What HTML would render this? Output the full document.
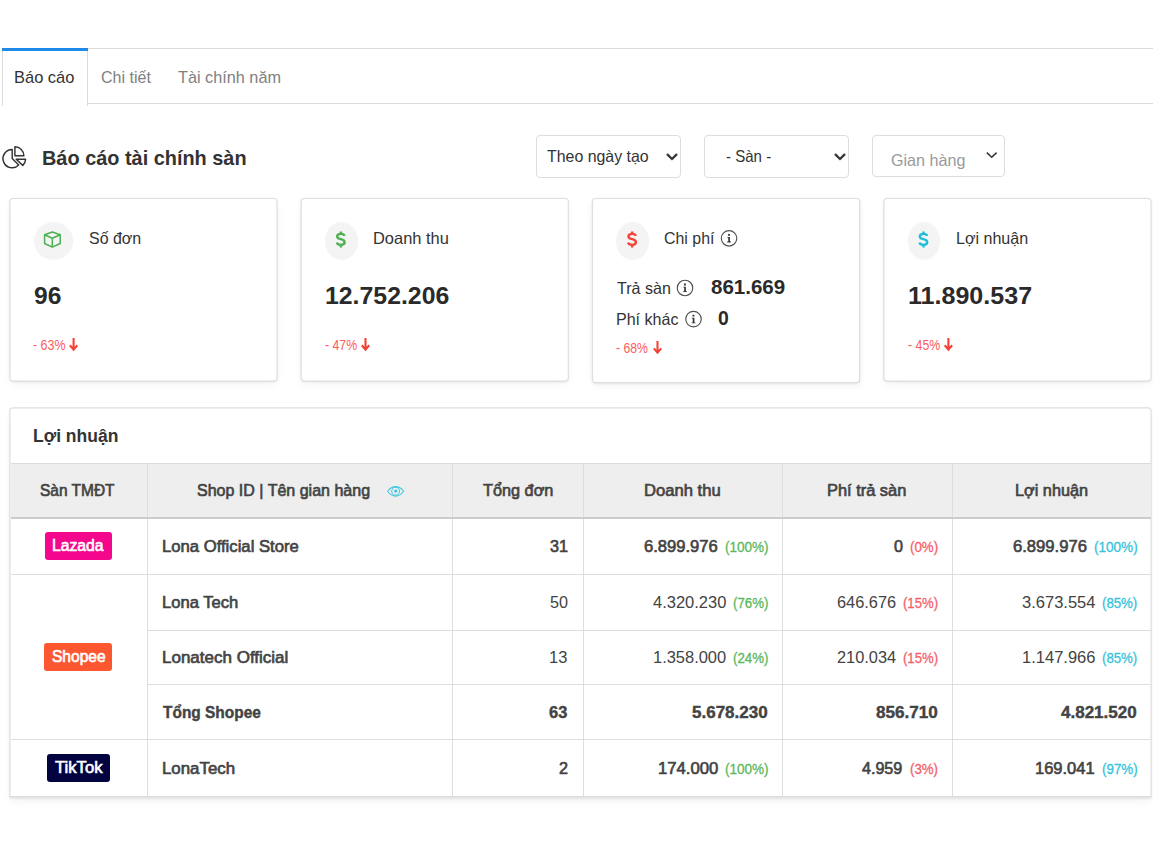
<!DOCTYPE html>
<html lang="vi">
<head>
<meta charset="utf-8">
<title>Báo cáo tài chính sàn</title>
<style>
*{box-sizing:border-box;margin:0;padding:0}
html,body{width:1153px;height:845px;overflow:hidden;background:#fff}
body{font-family:"Liberation Sans",sans-serif;color:#333;position:relative}
.a,.x{position:absolute;white-space:nowrap}
.x{font-family:"Liberation Sans",sans-serif;transform-origin:0 0}
svg{position:absolute;overflow:visible}
.card{position:absolute;border-radius:4px;background:#fff;box-shadow:0 1px 3px rgba(0,0,0,.08),0 3px 8px rgba(0,0,0,.045)}
.sel{position:absolute;border:1px solid #ddd;border-radius:4px;background:#fff}
.oval{position:absolute;border-radius:50%;background:#f4f4f4}
.vl{position:absolute;width:1px;background:#dedede}
.hl{position:absolute;height:1px;background:#dedede}
.badge{position:absolute;border-radius:3px}
</style>
</head>
<body>
<!-- tabs -->
<div class="a" style="left:2px;top:48px;width:1151px;height:1px;background:#dcdcdc"></div>
<div class="a" style="left:88px;top:103px;width:1065px;height:1px;background:#dcdcdc"></div>
<div class="a" style="left:2px;top:48px;width:1px;height:58px;background:#dcdcdc"></div>
<div class="a" style="left:87px;top:48px;width:1px;height:58px;background:#dcdcdc"></div>
<div class="a" style="left:2px;top:48px;width:86px;height:3px;background:#1e8ae8"></div>

<!-- title icon -->
<svg style="left:0;top:140px" width="40" height="35" viewBox="0 140 40 35" fill="none" stroke="#333" stroke-width="1.45" stroke-linejoin="round" stroke-linecap="butt">
  <path d="M12.2 149.4 A9.2 9.2 0 1 0 18.7 165.1 L12.2 158.6 Z"/>
  <path d="M14.9 146.8 V155.8 H23.9 A9 9 0 0 0 14.9 146.8 Z"/>
  <path d="M16.2 159.2 H25.6 A9.4 9.4 0 0 1 22.8 165.4 Z"/>
</svg>

<!-- selects -->
<div class="sel" style="left:536px;top:135px;width:145px;height:43px"></div>
<div class="sel" style="left:704px;top:135px;width:145px;height:43px"></div>
<div class="sel" style="left:872px;top:135px;width:133px;height:42px"></div>
<svg style="left:0;top:0" width="1153" height="200" viewBox="0 0 1153 200" fill="none" stroke-linejoin="miter">
  <path d="M667.6 154.6 L672 159 L676.4 154.6" stroke="#333" stroke-width="2.2" stroke-linecap="round"/>
  <path d="M835.6 154.6 L840 159 L844.4 154.6" stroke="#333" stroke-width="2.2" stroke-linecap="round"/>
  <path d="M986.8 152.6 L991.7 157.3 L996.6 152.6" stroke="#333" stroke-width="1.5"/>
</svg>

<!-- cards -->
<div class="card" style="left:10px;top:198px;width:267px;height:183px"></div>
<div class="card" style="left:301px;top:198px;width:267px;height:183px"></div>
<div class="card" style="left:592px;top:198px;width:268px;height:185px"></div>
<div class="card" style="left:884px;top:198px;width:267px;height:183px"></div>
<svg style="left:0;top:190px" width="1153" height="200" viewBox="0 190 1153 200" fill="none" stroke="#dedede" stroke-width="1.15">
  <rect x="9.9" y="198.5" width="267.1" height="182.6" rx="3.3"/>
  <rect x="301.2" y="198.5" width="267.1" height="182.6" rx="3.3"/>
  <rect x="592.5" y="198.5" width="267.1" height="184.1" rx="3.3"/>
  <rect x="883.9" y="198.5" width="267.1" height="182.6" rx="3.3"/>
</svg>
<div class="oval" style="left:33.5px;top:222px;width:39.5px;height:37.5px"></div>
<div class="oval" style="left:325px;top:222px;width:32.5px;height:37.5px"></div>
<div class="oval" style="left:616.3px;top:222px;width:32.5px;height:37.5px"></div>
<div class="oval" style="left:907.5px;top:222px;width:32.5px;height:37.5px"></div>

<!-- card icons -->
<svg style="left:0;top:200px" width="1153" height="190" viewBox="0 200 1153 190" fill="none">
  <!-- box -->
  <g stroke="#4caf50" stroke-width="1.5" stroke-linejoin="round">
    <path d="M52.3 232.0 L60.2 234.8 V243.5 L52.3 247.1 L44.6 243.5 V234.8 Z"/>
    <path d="M44.6 234.8 L52.3 238.3 L60.2 234.8 M52.3 238.3 V247.1"/>
  </g>
  <!-- dollars -->
  <g id="dl" stroke-width="2.4" stroke-linecap="butt">
    <path id="dollar" d="M3.7 -3.5 C3.3 -4.9 2.0 -5.5 0.1 -5.5 C-2.1 -5.5 -3.6 -4.5 -3.6 -3.0 C-3.6 -1.5 -2.3 -0.8 0.1 -0.2 C2.6 0.4 3.8 1.3 3.8 2.9 C3.8 4.5 2.4 5.5 0.1 5.5 C-2.1 5.5 -3.6 4.7 -3.9 3.2 M0.1 -8.0 V-5.5 M0.1 5.5 V8.0" transform="translate(340.8 239.4)" stroke="#4caf50"/>
  </g>
</svg>
<svg style="left:0;top:200px" width="1153" height="190" viewBox="0 200 1153 190" fill="none" stroke-width="2.4">
  <path d="M3.7 -3.5 C3.3 -4.9 2.0 -5.5 0.1 -5.5 C-2.1 -5.5 -3.6 -4.5 -3.6 -3.0 C-3.6 -1.5 -2.3 -0.8 0.1 -0.2 C2.6 0.4 3.8 1.3 3.8 2.9 C3.8 4.5 2.4 5.5 0.1 5.5 C-2.1 5.5 -3.6 4.7 -3.9 3.2 M0.1 -8.0 V-5.5 M0.1 5.5 V8.0" transform="translate(632.1 239.4)" stroke="#f44336"/>
  <path d="M3.7 -3.5 C3.3 -4.9 2.0 -5.5 0.1 -5.5 C-2.1 -5.5 -3.6 -4.5 -3.6 -3.0 C-3.6 -1.5 -2.3 -0.8 0.1 -0.2 C2.6 0.4 3.8 1.3 3.8 2.9 C3.8 4.5 2.4 5.5 0.1 5.5 C-2.1 5.5 -3.6 4.7 -3.9 3.2 M0.1 -8.0 V-5.5 M0.1 5.5 V8.0" transform="translate(923.4 239.4)" stroke="#22bcd6"/>
  <!-- info icons -->
  <g stroke="#505050" stroke-width="1.15">
    <circle cx="729.05" cy="238.3" r="7.75"/>
    <circle cx="685.0" cy="288.0" r="7.75"/>
    <circle cx="693.5" cy="319.1" r="7.75"/>
  </g>
  <g fill="#333" stroke="none">
    <path id="ii" d="M-1.0 -4.4 h1.9 v1.8 h-1.9 z M-1.7 -1.3 h2.6 v4.6 h1.0 v0.8 h-3.8 v-0.8 h1.1 v-3.8 h-0.9 z" transform="translate(729.05 238.3)"/>
    <path d="M-1.0 -4.4 h1.9 v1.8 h-1.9 z M-1.7 -1.3 h2.6 v4.6 h1.0 v0.8 h-3.8 v-0.8 h1.1 v-3.8 h-0.9 z" transform="translate(685.0 288.0)"/>
    <path d="M-1.0 -4.4 h1.9 v1.8 h-1.9 z M-1.7 -1.3 h2.6 v4.6 h1.0 v0.8 h-3.8 v-0.8 h1.1 v-3.8 h-0.9 z" transform="translate(693.5 319.1)"/>
  </g>
  <!-- arrows -->
  <g stroke="#f44336" stroke-width="2.1" stroke-linejoin="miter">
    <path d="M73.6 338 V349.4 M69.9 345.3 L73.6 349.6 L77.3 345.3"/>
    <path d="M365.5 338 V349.4 M361.8 345.3 L365.5 349.6 L369.2 345.3"/>
    <path d="M657.5 341.1 V352.5 M653.8 348.4 L657.5 352.7 L661.2 348.4"/>
    <path d="M948.4 338 V349.4 M944.7 345.3 L948.4 349.6 L952.1 345.3"/>
  </g>
</svg>

<!-- table -->
<div class="card" style="left:10px;top:408px;width:1141px;height:390px;border-radius:4px 4px 1px 1px"></div>
<svg style="left:0;top:400px" width="1153" height="410" viewBox="0 400 1153 410" fill="none" stroke="#dedede" stroke-width="1.15"><path d="M9.9 797.7 V411 Q9.9 407.8 13.1 407.8 H1147.9 Q1151.1 407.8 1151.1 411 V797.7 Z"/></svg>
<div class="a" style="left:11px;top:463px;width:1140px;height:54px;background:#eeeeee;border-top:1px solid #dcdcdc"></div>
<div class="vl" style="left:147px;top:464px;height:332px"></div>
<div class="vl" style="left:452px;top:464px;height:332px"></div>
<div class="vl" style="left:583px;top:464px;height:332px"></div>
<div class="vl" style="left:782px;top:464px;height:332px"></div>
<div class="vl" style="left:952px;top:464px;height:332px"></div>
<div class="a" style="left:11px;top:517px;width:1140px;height:2px;background:#cccccc"></div>
<div class="a" style="left:10px;top:796px;width:1141px;height:1px;background:#dcdcdc"></div>
<div class="hl" style="left:11px;top:574px;width:1140px"></div>
<div class="hl" style="left:148px;top:630px;width:1003px"></div>
<div class="hl" style="left:148px;top:684px;width:1003px"></div>
<div class="hl" style="left:11px;top:739px;width:1140px"></div>
<!-- eye -->
<svg style="left:380px;top:480px" width="32" height="24" viewBox="380 480 32 24" fill="none" stroke="#45c8de" stroke-width="1.05">
  <path d="M387.7 491.3 C390.2 487.5 393 486.6 395.6 486.6 C398.2 486.6 401 487.5 403.6 491.3 C401 495.1 398.2 496.1 395.6 496.1 C393 496.1 390.2 495.1 387.7 491.3 Z"/>
  <circle cx="395.6" cy="491.2" r="3.9"/>
  <circle cx="395.8" cy="491.0" r="1.6" fill="#2fc2da" stroke="none"/>
</svg>
<!-- badges -->
<div class="badge" style="left:45px;top:532px;width:67px;height:28px;background:#f5078d"></div>
<div class="badge" style="left:44px;top:643px;width:68px;height:28px;background:#fd5731"></div>
<div class="badge" style="left:47px;top:754px;width:63px;height:28px;background:#030340"></div>

<div class="x" id="t1" style="left:13.98px;top:66.89px;font-size:16.2px;line-height:21px;transform:scaleX(1.0172);color:#333">Báo cáo</div>
<div class="x" id="t2" style="left:101.00px;top:66.89px;font-size:16.2px;line-height:21px;transform:scaleX(0.9905);color:#808080">Chi tiết</div>
<div class="x" id="t3" style="left:178.00px;top:66.89px;font-size:16.2px;line-height:21px;transform:scaleX(1.0040);color:#808080">Tài chính năm</div>
<div class="x" id="title" style="left:42.39px;top:145.24px;font-size:19.8px;line-height:26px;transform:scaleX(1.0061);color:#333;font-weight:bold">Báo cáo tài chính sàn</div>
<div class="x" id="s1t" style="left:547.30px;top:146.18px;font-size:16.5px;line-height:21px;transform:scaleX(0.9638);color:#333">Theo ngày tạo</div>
<div class="x" id="s2t" style="left:725.60px;top:146.18px;font-size:16.5px;line-height:21px;transform:scaleX(0.9118);color:#333">- Sàn -</div>
<div class="x" id="s3t" style="left:891.00px;top:149.78px;font-size:16.5px;line-height:21px;transform:scaleX(0.9767);color:#9a9a9a">Gian hàng</div>
<div class="x" id="ct1" style="left:88.50px;top:228.38px;font-size:16.5px;line-height:21px;transform:scaleX(0.9672);color:#333">Số đơn</div>
<div class="x" id="ct2" style="left:372.50px;top:228.38px;font-size:16.5px;line-height:21px;transform:scaleX(0.9964);color:#333">Doanh thu</div>
<div class="x" id="ct3" style="left:664.40px;top:228.38px;font-size:16.5px;line-height:21px;transform:scaleX(0.9640);color:#333">Chi phí</div>
<div class="x" id="ct4" style="left:955.63px;top:228.38px;font-size:16.5px;line-height:21px;transform:scaleX(0.9732);color:#333">Lợi nhuận</div>
<div class="x" id="b1" style="left:33.50px;top:279.51px;font-size:24.2px;line-height:31px;transform:scaleX(1.0169);color:#2a2a2a;font-weight:bold">96</div>
<div class="x" id="b2" style="left:324.97px;top:279.51px;font-size:24.2px;line-height:31px;transform:scaleX(1.0267);color:#2a2a2a;font-weight:bold">12.752.206</div>
<div class="x" id="b4" style="left:907.86px;top:279.51px;font-size:24.2px;line-height:31px;transform:scaleX(1.0366);color:#2a2a2a;font-weight:bold">11.890.537</div>
<div class="x" id="l1" style="left:616.70px;top:277.58px;font-size:16.5px;line-height:21px;transform:scaleX(0.9737);color:#333">Trả sàn</div>
<div class="x" id="m1" style="left:710.60px;top:273.94px;font-size:19.8px;line-height:26px;transform:scaleX(1.0377);color:#2a2a2a;font-weight:bold">861.669</div>
<div class="x" id="l2" style="left:616.03px;top:308.78px;font-size:16.5px;line-height:21px;transform:scaleX(0.9721);color:#333">Phí khác</div>
<div class="x" id="m2" style="left:718.41px;top:305.14px;font-size:19.8px;line-height:26px;transform:scaleX(0.9800);color:#2a2a2a;font-weight:bold">0</div>
<div class="x" id="p1" style="left:32.60px;top:336.15px;font-size:14.3px;line-height:19px;transform:scaleX(0.8689);color:#fb5c5c">- 63%</div>
<div class="x" id="p2" style="left:324.60px;top:336.15px;font-size:14.3px;line-height:19px;transform:scaleX(0.8609);color:#fb5c5c">- 47%</div>
<div class="x" id="p3" style="left:616.20px;top:339.15px;font-size:14.3px;line-height:19px;transform:scaleX(0.8556);color:#fb5c5c">- 68%</div>
<div class="x" id="p4" style="left:907.90px;top:336.15px;font-size:14.3px;line-height:19px;transform:scaleX(0.8635);color:#fb5c5c">- 45%</div>
<div class="x" id="tcap" style="left:32.51px;top:424.80px;font-size:17.6px;line-height:23px;transform:scaleX(0.9946);color:#333;font-weight:bold">Lợi nhuận</div>
<div class="x" id="h1" style="left:39.80px;top:479.88px;font-size:16.5px;line-height:21px;transform:scaleX(0.9375);color:#434343;-webkit-text-stroke:0.65px #434343">Sàn TMĐT</div>
<div class="x" id="h2" style="left:197.40px;top:479.88px;font-size:16.5px;line-height:21px;transform:scaleX(0.9709);color:#434343;-webkit-text-stroke:0.65px #434343">Shop ID | Tên gian hàng</div>
<div class="x" id="h3" style="left:483.00px;top:479.88px;font-size:16.5px;line-height:21px;transform:scaleX(0.9861);color:#434343;-webkit-text-stroke:0.65px #434343">Tổng đơn</div>
<div class="x" id="h4" style="left:643.99px;top:479.88px;font-size:16.5px;line-height:21px;transform:scaleX(1.0071);color:#434343;-webkit-text-stroke:0.65px #434343">Doanh thu</div>
<div class="x" id="h5" style="left:827.21px;top:479.88px;font-size:16.5px;line-height:21px;transform:scaleX(0.9934);color:#434343;-webkit-text-stroke:0.65px #434343">Phí trả sàn</div>
<div class="x" id="h6" style="left:1014.81px;top:479.88px;font-size:16.5px;line-height:21px;transform:scaleX(0.9856);color:#434343;-webkit-text-stroke:0.65px #434343">Lợi nhuận</div>
<div class="x" id="n1" style="left:162.09px;top:536.08px;font-size:16.5px;line-height:21px;transform:scaleX(1.0100);color:#434343;-webkit-text-stroke:0.65px #434343">Lona Official Store</div>
<div class="x" id="n2" style="left:162.09px;top:591.88px;font-size:16.5px;line-height:21px;transform:scaleX(1.0058);color:#434343;-webkit-text-stroke:0.65px #434343">Lona Tech</div>
<div class="x" id="n3" style="left:162.07px;top:647.18px;font-size:16.5px;line-height:21px;transform:scaleX(1.0303);color:#434343;-webkit-text-stroke:0.65px #434343">Lonatech Official</div>
<div class="x" id="n4" style="left:162.90px;top:701.78px;font-size:16.5px;line-height:21px;transform:scaleX(0.9366);color:#434343;font-weight:bold;-webkit-text-stroke:0.4px #434343">Tổng Shopee</div>
<div class="x" id="n5" style="left:162.08px;top:757.98px;font-size:16.5px;line-height:21px;transform:scaleX(1.0216);color:#434343;-webkit-text-stroke:0.65px #434343">LonaTech</div>
<div class="x" id="q1" style="left:549.89px;top:536.08px;font-size:16.5px;line-height:21px;transform:scaleX(0.9800);color:#434343;-webkit-text-stroke:0.65px #434343">31</div>
<div class="x" id="q2" style="left:549.59px;top:591.88px;font-size:16.5px;line-height:21px;transform:scaleX(0.9800);color:#434343">50</div>
<div class="x" id="q3" style="left:549.20px;top:647.18px;font-size:16.5px;line-height:21px;transform:scaleX(1.0014);color:#434343">13</div>
<div class="x" id="q4" style="left:549.30px;top:701.78px;font-size:16.5px;line-height:21px;transform:scaleX(0.9958);color:#434343;font-weight:bold;-webkit-text-stroke:0.4px #434343">63</div>
<div class="x" id="q5" style="left:558.59px;top:757.98px;font-size:16.5px;line-height:21px;transform:scaleX(0.9800);color:#434343;-webkit-text-stroke:0.65px #434343">2</div>
<div class="x" id="d1" style="left:643.60px;top:536.08px;font-size:16.5px;line-height:21px;transform:scaleX(1.0051);color:#434343;-webkit-text-stroke:0.65px #434343">6.899.976</div>
<div class="x" id="d1p" style="left:724.70px;top:537.85px;font-size:14.0px;line-height:18px;transform:scaleX(0.9647);color:#5cb85c;-webkit-text-stroke:0.3px #5cb85c">(100%)</div>
<div class="x" id="d2" style="left:653.20px;top:591.88px;font-size:16.5px;line-height:21px;transform:scaleX(0.9996);color:#434343">4.320.230</div>
<div class="x" id="d2p" style="left:732.80px;top:593.65px;font-size:14.0px;line-height:18px;transform:scaleX(0.9487);color:#5cb85c;-webkit-text-stroke:0.3px #5cb85c">(76%)</div>
<div class="x" id="d3" style="left:653.40px;top:647.18px;font-size:16.5px;line-height:21px;transform:scaleX(0.9968);color:#434343">1.358.000</div>
<div class="x" id="d3p" style="left:732.80px;top:648.95px;font-size:14.0px;line-height:18px;transform:scaleX(0.9487);color:#5cb85c;-webkit-text-stroke:0.3px #5cb85c">(24%)</div>
<div class="x" id="d4" style="left:692.00px;top:701.78px;font-size:16.5px;line-height:21px;transform:scaleX(1.0310);color:#434343;font-weight:bold;-webkit-text-stroke:0.4px #434343">5.678.230</div>
<div class="x" id="d5" style="left:657.59px;top:757.98px;font-size:16.5px;line-height:21px;transform:scaleX(1.0108);color:#434343;-webkit-text-stroke:0.65px #434343">174.000</div>
<div class="x" id="d5p" style="left:724.70px;top:759.75px;font-size:14.0px;line-height:18px;transform:scaleX(0.9647);color:#5cb85c;-webkit-text-stroke:0.3px #5cb85c">(100%)</div>
<div class="x" id="f1" style="left:894.29px;top:536.08px;font-size:16.5px;line-height:21px;transform:scaleX(0.9800);color:#434343;-webkit-text-stroke:0.65px #434343">0</div>
<div class="x" id="f1p" style="left:909.80px;top:537.85px;font-size:14.0px;line-height:18px;transform:scaleX(0.9517);color:#f5606a;-webkit-text-stroke:0.3px #f5606a">(0%)</div>
<div class="x" id="f2" style="left:836.50px;top:591.88px;font-size:16.5px;line-height:21px;transform:scaleX(0.9922);color:#434343">646.676</div>
<div class="x" id="f2p" style="left:902.90px;top:593.65px;font-size:14.0px;line-height:18px;transform:scaleX(0.9378);color:#f5606a;-webkit-text-stroke:0.3px #f5606a">(15%)</div>
<div class="x" id="f3" style="left:836.50px;top:647.18px;font-size:16.5px;line-height:21px;transform:scaleX(0.9922);color:#434343">210.034</div>
<div class="x" id="f3p" style="left:902.90px;top:648.95px;font-size:14.0px;line-height:18px;transform:scaleX(0.9378);color:#f5606a;-webkit-text-stroke:0.3px #f5606a">(15%)</div>
<div class="x" id="f4" style="left:875.60px;top:701.78px;font-size:16.5px;line-height:21px;transform:scaleX(1.0359);color:#434343;font-weight:bold;-webkit-text-stroke:0.4px #434343">856.710</div>
<div class="x" id="f5" style="left:862.10px;top:757.98px;font-size:16.5px;line-height:21px;transform:scaleX(0.9753);color:#434343;-webkit-text-stroke:0.65px #434343">4.959</div>
<div class="x" id="f5p" style="left:909.90px;top:759.75px;font-size:14.0px;line-height:18px;transform:scaleX(0.9482);color:#f5606a;-webkit-text-stroke:0.3px #f5606a">(3%)</div>
<div class="x" id="g1" style="left:1012.90px;top:536.08px;font-size:16.5px;line-height:21px;transform:scaleX(1.0065);color:#434343;-webkit-text-stroke:0.65px #434343">6.899.976</div>
<div class="x" id="g1p" style="left:1094.00px;top:537.85px;font-size:14.0px;line-height:18px;transform:scaleX(0.9670);color:#35c4dc;-webkit-text-stroke:0.3px #35c4dc">(100%)</div>
<div class="x" id="g2" style="left:1021.70px;top:591.88px;font-size:16.5px;line-height:21px;transform:scaleX(1.0010);color:#434343">3.673.554</div>
<div class="x" id="g2p" style="left:1102.40px;top:593.65px;font-size:14.0px;line-height:18px;transform:scaleX(0.9432);color:#35c4dc;-webkit-text-stroke:0.3px #35c4dc">(85%)</div>
<div class="x" id="g3" style="left:1021.70px;top:647.18px;font-size:16.5px;line-height:21px;transform:scaleX(1.0010);color:#434343">1.147.966</div>
<div class="x" id="g3p" style="left:1102.40px;top:648.95px;font-size:14.0px;line-height:18px;transform:scaleX(0.9432);color:#35c4dc;-webkit-text-stroke:0.3px #35c4dc">(85%)</div>
<div class="x" id="g4" style="left:1061.10px;top:701.78px;font-size:16.5px;line-height:21px;transform:scaleX(1.0310);color:#434343;font-weight:bold;-webkit-text-stroke:0.4px #434343">4.821.520</div>
<div class="x" id="g5" style="left:1034.50px;top:757.98px;font-size:16.5px;line-height:21px;transform:scaleX(0.9989);color:#434343;-webkit-text-stroke:0.65px #434343">169.041</div>
<div class="x" id="g5p" style="left:1102.00px;top:759.75px;font-size:14.0px;line-height:18px;transform:scaleX(0.9541);color:#35c4dc;-webkit-text-stroke:0.3px #35c4dc">(97%)</div>
<div class="x" id="bz1" style="left:51.95px;top:534.78px;font-size:16.5px;line-height:21px;transform:scaleX(0.9526);color:#fff;-webkit-text-stroke:0.65px #fff">Lazada</div>
<div class="x" id="bz2" style="left:51.60px;top:646.08px;font-size:16.5px;line-height:21px;transform:scaleX(0.9416);color:#fff;-webkit-text-stroke:0.65px #fff">Shopee</div>
<div class="x" id="bz3" style="left:54.70px;top:756.98px;font-size:16.5px;line-height:21px;transform:scaleX(1.0082);color:#fff;-webkit-text-stroke:0.65px #fff">TikTok</div>
</body>
</html>
